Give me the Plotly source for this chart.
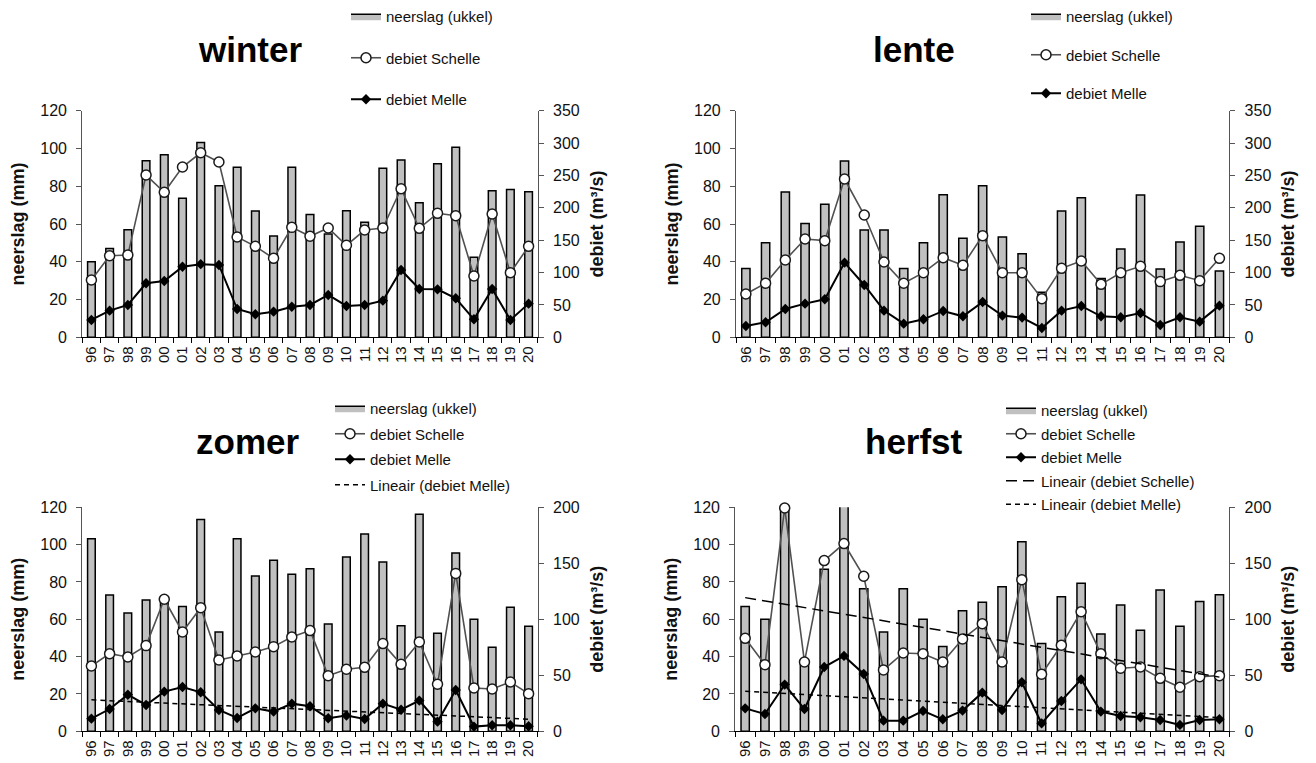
import numpy as np
import plotly.graph_objects as go

years = ['96', '97', '98', '99', '00', '01', '02', '03', '04', '05', '06', '07', '08',
         '09', '10', '11', '12', '13', '14', '15', '16', '17', '18', '19', '20']

winter_neerslag = [40, 47, 57, 93.5, 96.7, 73.6, 103.2, 80.3, 90, 66.9, 53.6, 90, 65,
                   54.7, 67, 60.9, 89.5, 93.9, 71.3, 91.9, 100.6, 42.4, 77.6, 78.3, 77.1]
winter_schelle = [88.5, 126, 127, 250.6, 223.9, 263, 285, 270.7, 155, 140.5, 122, 169.8, 156,
                  168.8, 142, 165.7, 168.8, 229.5, 168.3, 191.5, 187.9, 94.7, 190.4, 99.8, 140.5]
winter_melle = [26.8, 41.2, 49.9, 83.4, 87, 109, 113, 111.7, 43.7, 35.5, 39.6, 47.3, 49.9,
                65.4, 48.4, 49.9, 56.6, 104, 74.6, 74.1, 60.2, 27.8, 74.6, 26.8, 52]

lente_neerslag = [36.5, 50.1, 76.9, 60.2, 70.4, 93.3, 56.8, 56.8, 36.5, 50.1, 75.5, 52.4, 80.3,
                  53.1, 44.3, 23.8, 66.9, 73.9, 31.1, 46.8, 75.3, 36.2, 50.5, 58.8, 35.1]
lente_schelle = [66.9, 83.4, 119.4, 151.8, 149.3, 244.5, 188.9, 116.3, 83.4, 99.8, 123, 111.2, 157,
                 99.8, 99.8, 59.7, 106.5, 117.9, 81.8, 99.8, 109.6, 86, 95.7, 87.5, 122]
lente_melle = [17.5, 23.2, 43.7, 52, 58.7, 115.3, 80.8, 41.2, 21.1, 27.8, 40.7, 32.4, 54.6,
               33.5, 30.4, 14.4, 41.2, 48.4, 32.4, 30.9, 37.6, 19, 30.9, 24.2, 48.9]

zomer_neerslag = [103.2, 73, 63.4, 70.4, 70, 66.8, 113.4, 53.2, 103.2, 83.2, 91.6, 84.1, 87.1,
                  57.5, 93.4, 105.7, 90.7, 56.6, 116.3, 52.5, 95.5, 60, 45, 66.4, 56.3]
zomer_schelle = [58.3, 69.3, 66.4, 76.5, 117.9, 88.7, 110.4, 63.7, 67.3, 70.8, 75.6, 84.2, 89.9,
                 49.7, 55.4, 57.1, 78.3, 59.8, 79.8, 42, 141, 38.7, 37.8, 44, 33.6]
zomer_melle = [11.3, 19.9, 32.7, 23.5, 35.4, 39.6, 34.8, 19, 11.9, 20.5, 17.6, 24.7, 22.3,
               11.6, 14, 11, 24.7, 19.3, 27.4, 8.6, 36.9, 4.2, 5.4, 5.4, 4.5]

herfst_neerslag = [66.8, 60, 125, 37.1, 86.8, 130, 76.4, 53.2, 76.4, 60, 45.4, 64.6, 69.1,
                   77.5, 101.6, 47, 72.1, 79.3, 52.1, 67.7, 54.1, 75.7, 56.3, 69.6, 73.2]
herfst_schelle = [83, 59.5, 199.4, 61.9, 152.4, 167.6, 138.4, 54.8, 69.9, 69.3, 61.9, 82.4, 96.1,
                  61.9, 135.4, 50.9, 76.8, 106.8, 69.3, 56.3, 57.4, 47.3, 39.3, 48.8, 49.7]
herfst_melle = [20.5, 15.5, 41.7, 19.9, 57.4, 67.3, 51.2, 9.5, 9.5, 18.2, 10.7, 18.5, 34.5,
                19, 43.8, 7.1, 27.1, 46.4, 17.6, 13.7, 12.5, 10.1, 5.7, 10.1, 10.7]

titles = ['winter', 'lente', 'zomer', 'herfst']
FONT = 'Liberation Sans, Arial, sans-serif'
W, H = 1316, 763


def linfit(vals):
    idx = np.arange(len(vals))
    a, b = np.polyfit(idx, np.array(vals, dtype=float), 1)
    return list(a * idx + b)


panels = [
    dict(title=titles[0], rain=winter_neerslag, sch=winter_schelle, mel=winter_melle,
         rmax=350, trends=[], px=(82.3, 537.7), py=(110.7, 337.3),
         leg=dict(x=346, y=0, gap=19), tpos=(250, 49)),
    dict(title=titles[1], rain=lente_neerslag, sch=lente_schelle, mel=lente_melle,
         rmax=350, trends=[], px=(736, 1229.3), py=(110.7, 337.3),
         leg=dict(x=1026, y=0, gap=16), tpos=(914, 49)),
    dict(title=titles[2], rain=zomer_neerslag, sch=zomer_schelle, mel=zomer_melle,
         rmax=200, trends=['mel'], px=(82.3, 537.7), py=(507.3, 731.3),
         leg=dict(x=330, y=392, gap=3), tpos=(247, 441)),
    dict(title=titles[3], rain=herfst_neerslag, sch=herfst_schelle, mel=herfst_melle,
         rmax=200, trends=['sch', 'mel'], px=(735.3, 1229.3), py=(507.3, 731.3),
         leg=dict(x=1001, y=394, gap=1), tpos=(914, 441)),
]

fig = go.Figure()
layout = dict(width=W, height=H, margin=dict(l=0, r=0, t=0, b=0, pad=0, autoexpand=False),
              paper_bgcolor='white', plot_bgcolor='white',
              font=dict(family=FONT, color='#111111'), annotations=[], showlegend=True)

for i, p in enumerate(panels):
    n = i + 1
    xa = 'x' if n == 1 else f'x{n}'
    yl = 2 * n - 1
    yr = 2 * n
    yla = 'y' if yl == 1 else f'y{yl}'
    yra = f'y{yr}'
    legname = 'legend' if n == 1 else f'legend{n}'
    xd = [p['px'][0] / W, p['px'][1] / W]
    yd = [1 - p['py'][1] / H, 1 - p['py'][0] / H]

    layout['xaxis' if n == 1 else f'xaxis{n}'] = dict(
        domain=xd, anchor=yla, type='category', categoryorder='array', categoryarray=years,
        range=[-0.5, len(years) - 0.5], tickson='boundaries', ticks='outside', ticklen=5,
        tickcolor='black', showline=True, linecolor='black', linewidth=1.2,
        tickangle=-90, tickfont=dict(size=15, color='#111111'), showgrid=False,
        ticklabelstandoff=2, automargin=False)
    layout['yaxis' if yl == 1 else f'yaxis{yl}'] = dict(
        domain=yd, anchor=xa, range=[0, 120], dtick=20, ticks='outside', ticklen=5,
        tickcolor='#555555', showline=True, linecolor='#555555', linewidth=1.2,
        tickfont=dict(size=16, color='#111111'), showgrid=False, zeroline=False,
        ticklabelstandoff=6, automargin=False,
        title=dict(text='<b>neerslag (mm)</b>', font=dict(size=18), standoff=10))
    layout[f'yaxis{yr}'] = dict(
        domain=yd, anchor=xa, overlaying=yla, side='right', range=[0, p['rmax']], dtick=50,
        ticks='outside', ticklen=5, tickcolor='#555555', showline=True,
        linecolor='#555555', linewidth=1.2, tickfont=dict(size=16, color='#111111'),
        showgrid=False, zeroline=False, ticklabelstandoff=6, automargin=False,
        title=dict(text='<b>debiet (m³/s)</b>', font=dict(size=18), standoff=11))

    lg = p['leg']
    layout[legname] = dict(x=lg['x'] / W, y=1 - lg['y'] / H, xanchor='left', yanchor='top',
                           bgcolor='rgba(0,0,0,0)', borderwidth=0,
                           font=dict(size=15, family=FONT, color='#111111'),
                           traceorder='grouped', tracegroupgap=lg['gap'])

    # legend entry for the bars (flat rectangle look)
    fig.add_trace(go.Scatter(x=[None], y=[None], mode='lines', fill='toself',
                             fillcolor='#c0c0c0', line=dict(color='black', width=1.5),
                             name='neerslag (ukkel)', legend=legname, legendgroup=f'g{n}a',
                             xaxis=xa, yaxis=yla, hoverinfo='skip'))
    fig.add_trace(go.Bar(x=years, y=p['rain'], width=0.42, marker=dict(
        color='#c0c0c0', line=dict(color='black', width=1.5)),
        name='neerslag (ukkel)', showlegend=False, xaxis=xa, yaxis=yla))
    fig.add_trace(go.Scatter(x=years, y=p['sch'], mode='lines+markers', name='debiet Schelle',
                             line=dict(color='#505050', width=1.6),
                             marker=dict(symbol='circle', size=10, color='white',
                                         line=dict(color='#1a1a1a', width=1.5)),
                             cliponaxis=False, legend=legname, legendgroup=f'g{n}b',
                             xaxis=xa, yaxis=yra))
    fig.add_trace(go.Scatter(x=years, y=p['mel'], mode='lines+markers', name='debiet Melle',
                             line=dict(color='black', width=2),
                             marker=dict(symbol='diamond', size=8, color='black'),
                             cliponaxis=False, legend=legname, legendgroup=f'g{n}c',
                             xaxis=xa, yaxis=yra))
    for t in p['trends']:
        if t == 'sch':
            fig.add_trace(go.Scatter(x=years, y=linfit(p['sch']), mode='lines',
                                     name='Lineair (debiet Schelle)',
                                     line=dict(color='black', width=1.5, dash='11px,6px'),
                                     legend=legname, legendgroup=f'g{n}d',
                                     xaxis=xa, yaxis=yra))
        else:
            fig.add_trace(go.Scatter(x=years, y=linfit(p['mel']), mode='lines',
                                     name='Lineair (debiet Melle)',
                                     line=dict(color='black', width=1.5, dash='5px,4px'),
                                     legend=legname, legendgroup=f'g{n}e',
                                     xaxis=xa, yaxis=yra))

    layout['annotations'].append(dict(
        text=f"<b>{p['title']}</b>", x=p['tpos'][0] / W, y=1 - p['tpos'][1] / H,
        xref='paper', yref='paper', xanchor='center', yanchor='middle', showarrow=False,
        font=dict(size=35, family=FONT, color='black')))

fig.update_layout(**layout)
fig.write_html('out.html', config={'displayModeBar': False},
               post_script="document.body.style.margin='0';")
